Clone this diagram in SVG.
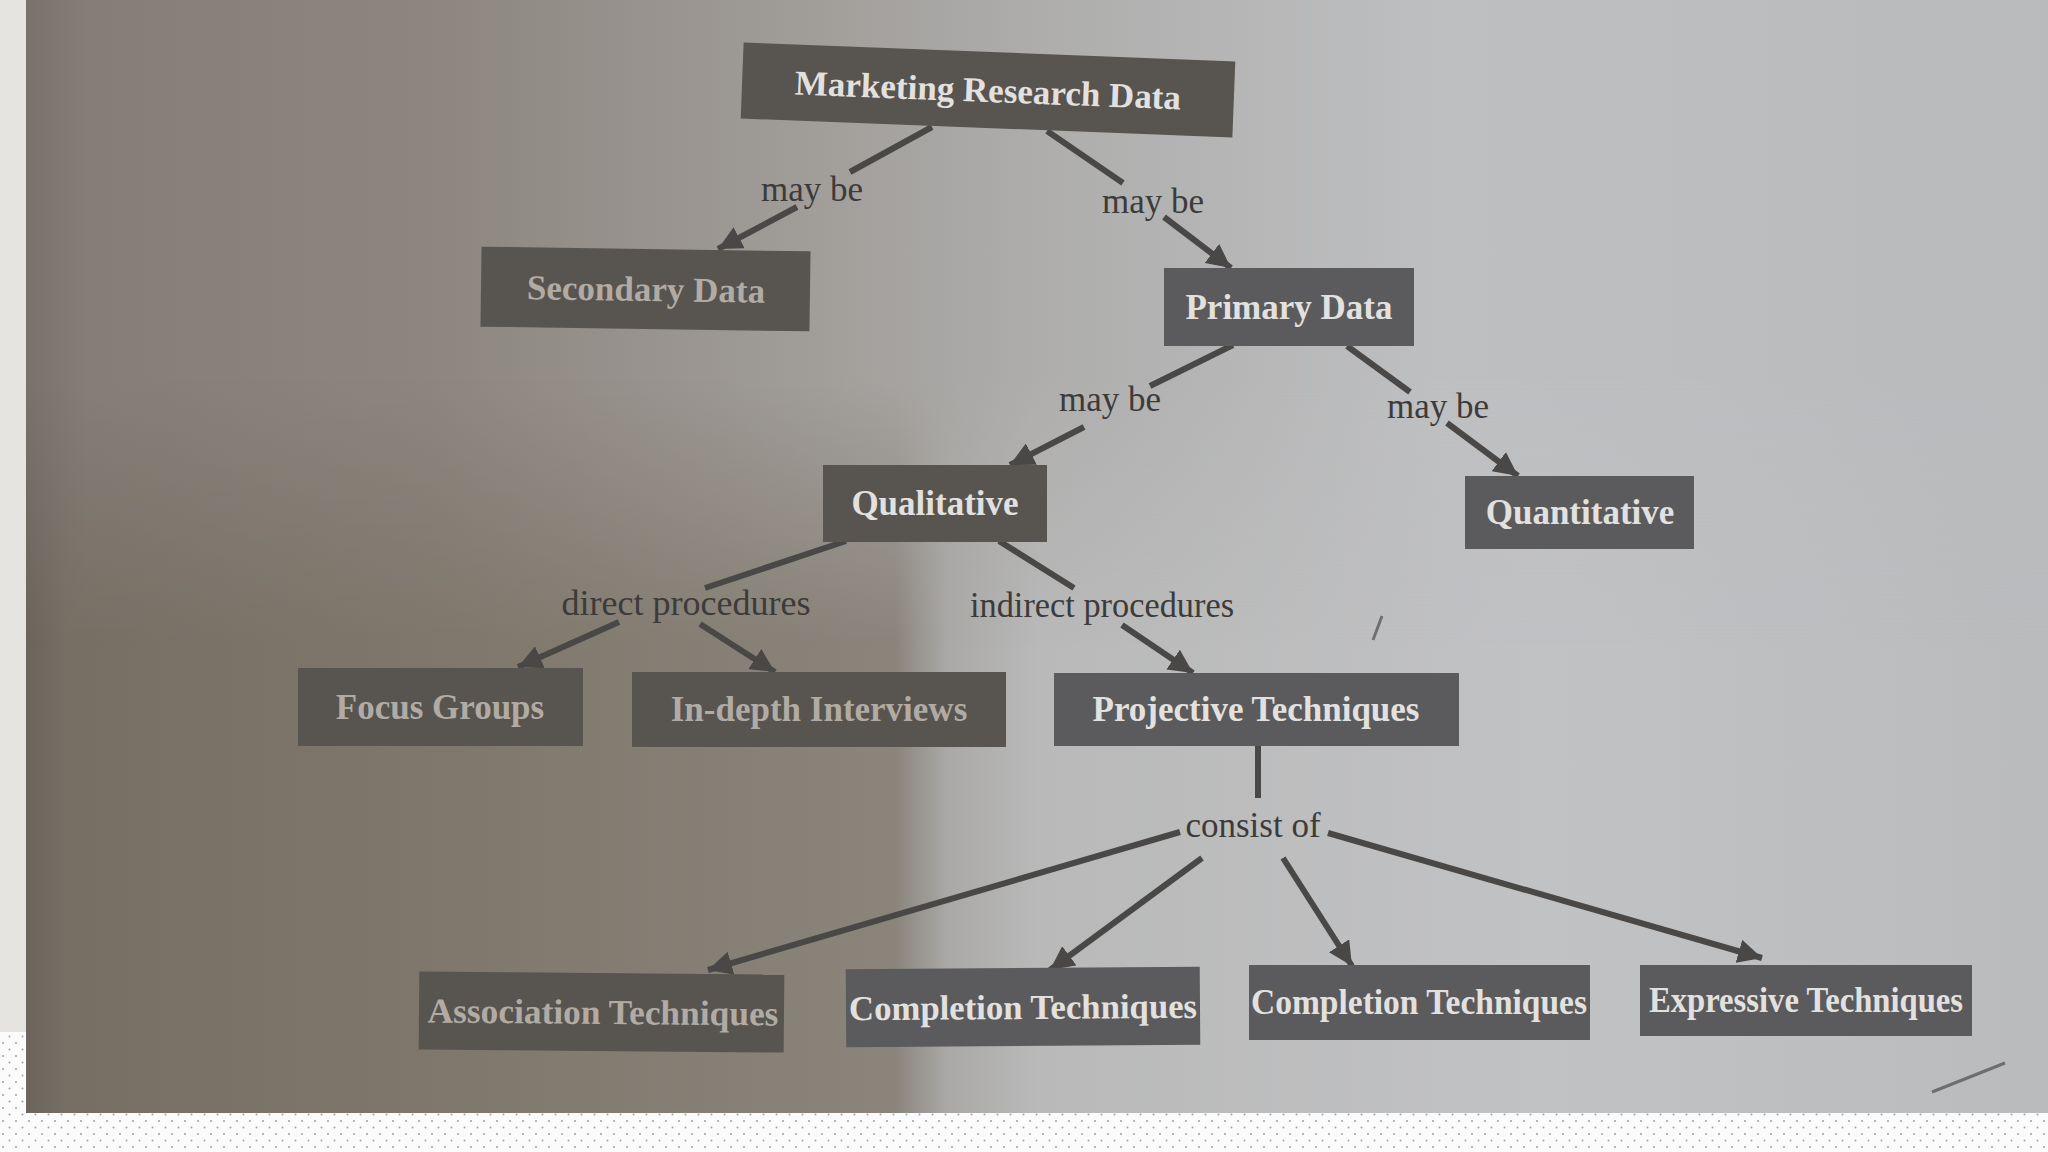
<svg xmlns="http://www.w3.org/2000/svg" width="2048" height="1152" viewBox="0 0 2048 1152">
  <style>
    .box { fill: #58544f; }
    .boxr { fill: #5b5b5d; }
    .t { font-family: "Liberation Serif", "Times New Roman", Tinos, "DejaVu Serif", serif; font-weight: bold; font-size: 35px; fill: #e2e1df; text-anchor: middle; }
    .dim { fill: #b1aba4; }
    .lbl { font-family: "Liberation Serif", "Times New Roman", Tinos, "DejaVu Serif", serif; font-size: 35px; fill: #3d3b3a; text-anchor: middle; }
    .edge { stroke: #4a4847; stroke-width: 6; fill: none; stroke-linecap: butt; }
  </style>
  <defs>
    <marker id="arr" markerUnits="userSpaceOnUse" markerWidth="26" markerHeight="24" refX="24" refY="12" orient="auto">
      <path d="M0,0 L24,12 L0,24 z" fill="#4a4847"/>
    </marker>
    <pattern id="dots" width="13" height="13" patternUnits="userSpaceOnUse">
      <rect width="13" height="13" fill="#fbfbfb"/>
      <circle cx="3" cy="3" r="1" fill="#9ea2ad"/>
      <circle cx="9.5" cy="9.5" r="1" fill="#9ea2ad"/>
    </pattern>
    <linearGradient id="lower" x1="26" y1="0" x2="2048" y2="0" gradientUnits="userSpaceOnUse">
      <stop offset="0" stop-color="#6b645b"/>
      <stop offset="0.02" stop-color="#776f64"/>
      <stop offset="0.2" stop-color="#7f776b"/>
      <stop offset="0.43" stop-color="#8a847b"/>
      <stop offset="0.455" stop-color="#a9a8a6"/>
      <stop offset="0.5" stop-color="#b9b9b9"/>
      <stop offset="0.75" stop-color="#c1c2c4"/>
      <stop offset="1" stop-color="#babbbd"/>
    </linearGradient>
    <linearGradient id="upper" x1="26" y1="0" x2="2048" y2="0" gradientUnits="userSpaceOnUse">
      <stop offset="0" stop-color="#78726b"/>
      <stop offset="0.03" stop-color="#847e77"/>
      <stop offset="0.2" stop-color="#8c867f"/>
      <stop offset="0.35" stop-color="#9c9893"/>
      <stop offset="0.5" stop-color="#aeadac"/>
      <stop offset="0.7" stop-color="#bebfc1"/>
      <stop offset="1" stop-color="#b9babc"/>
    </linearGradient>
    <linearGradient id="fade" x1="0" y1="0" x2="0" y2="1152" gradientUnits="userSpaceOnUse">
      <stop offset="0" stop-color="#fff"/>
      <stop offset="0.33" stop-color="#fff"/>
      <stop offset="0.56" stop-color="#000"/>
    </linearGradient>
    <mask id="upmask" maskUnits="userSpaceOnUse" x="0" y="0" width="2048" height="1152">
      <rect width="2048" height="1152" fill="url(#fade)"/>
    </mask>
  </defs>

  <!-- surroundings and photo -->
  <rect width="2048" height="1152" fill="#e5e4e0"/>
  <rect x="0" y="1032" width="26" height="120" fill="url(#dots)"/>
  <rect x="0" y="1113" width="2048" height="39" fill="url(#dots)"/>
  <rect x="26" y="0" width="2022" height="1113" fill="url(#lower)"/>
  <rect x="26" y="0" width="2022" height="1113" fill="url(#upper)" mask="url(#upmask)"/>
  <path d="M1932,1092 L2005,1063" stroke="#6d6e70" stroke-width="3" fill="none"/>
  <path d="M1373,640 L1382,616" stroke="#6f6f70" stroke-width="3" fill="none"/>

  <g id="connectors">
    <line class="edge" x1="932" y1="127" x2="850" y2="172"/>
    <line class="edge" x1="797" y1="207" x2="718" y2="249" marker-end="url(#arr)"/>
    <line class="edge" x1="1047" y1="131" x2="1123" y2="183"/>
    <line class="edge" x1="1164" y1="217" x2="1231" y2="268" marker-end="url(#arr)"/>
    <line class="edge" x1="1233" y1="345" x2="1150" y2="386"/>
    <line class="edge" x1="1084" y1="427" x2="1010" y2="465" marker-end="url(#arr)"/>
    <line class="edge" x1="1347" y1="346" x2="1410" y2="392"/>
    <line class="edge" x1="1447" y1="423" x2="1518" y2="476" marker-end="url(#arr)"/>
    <line class="edge" x1="846" y1="541" x2="705" y2="588"/>
    <line class="edge" x1="619" y1="622" x2="518" y2="667" marker-end="url(#arr)"/>
    <line class="edge" x1="700" y1="624" x2="775" y2="672" marker-end="url(#arr)"/>
    <line class="edge" x1="999" y1="541" x2="1074" y2="588"/>
    <line class="edge" x1="1122" y1="625" x2="1193" y2="673" marker-end="url(#arr)"/>
    <line class="edge" x1="1258" y1="746" x2="1258" y2="798"/>
    <line class="edge" x1="1180" y1="832" x2="708" y2="970" marker-end="url(#arr)"/>
    <line class="edge" x1="1202" y1="858" x2="1050" y2="970" marker-end="url(#arr)"/>
    <line class="edge" x1="1283" y1="858" x2="1352" y2="966" marker-end="url(#arr)"/>
    <line class="edge" x1="1328" y1="833" x2="1762" y2="958" marker-end="url(#arr)"/>
  </g>

  <g id="labels">
    <text class="lbl" x="812" y="201">may be</text>
    <text class="lbl" x="1153" y="213">may be</text>
    <text class="lbl" x="1110" y="411">may be</text>
    <text class="lbl" x="1438" y="418">may be</text>
    <text class="lbl" x="686" y="615" textLength="249" lengthAdjust="spacingAndGlyphs">direct procedures</text>
    <text class="lbl" x="1102" y="617" textLength="264" lengthAdjust="spacingAndGlyphs">indirect procedures</text>
    <text class="lbl" x="1253" y="837">consist of</text>
  </g>

  <g id="n-marketing" transform="rotate(2.2 988 90)">
    <rect class="box" x="742" y="52" width="492" height="76"/>
    <text class="t" x="988" y="102">Marketing Research Data</text>
  </g>
  <g id="n-secondary" transform="rotate(0.8 645 289)">
    <rect class="box" x="481" y="249" width="329" height="80"/>
    <text class="t dim" x="646" y="301">Secondary Data</text>
  </g>
  <g id="n-primary">
    <rect class="boxr" x="1164" y="268" width="250" height="78"/>
    <text class="t" x="1289" y="319">Primary Data</text>
  </g>
  <g id="n-qualitative">
    <rect class="box" x="823" y="465" width="224" height="77"/>
    <text class="t" x="935" y="515">Qualitative</text>
  </g>
  <g id="n-quantitative">
    <rect class="boxr" x="1465" y="476" width="229" height="73"/>
    <text class="t" x="1580" y="524">Quantitative</text>
  </g>
  <g id="n-focus">
    <rect class="box" x="298" y="668" width="285" height="78"/>
    <text class="t dim" x="440" y="719">Focus Groups</text>
  </g>
  <g id="n-indepth">
    <rect class="box" x="632" y="672" width="374" height="75"/>
    <text class="t dim" x="819" y="721">In-depth Interviews</text>
  </g>
  <g id="n-projective">
    <rect class="boxr" x="1054" y="673" width="405" height="73"/>
    <text class="t" x="1256" y="721">Projective Techniques</text>
  </g>
  <g id="n-association" transform="rotate(0.5 601 1012)">
    <rect class="box" x="419" y="973" width="365" height="78"/>
    <text class="t dim" x="603" y="1024" textLength="351" lengthAdjust="spacingAndGlyphs">Association Techniques</text>
  </g>
  <g id="n-completion1" transform="rotate(-0.4 1023 1007)">
    <rect class="boxr" x="846" y="968" width="354" height="78"/>
    <text class="t" x="1023" y="1019" textLength="348" lengthAdjust="spacingAndGlyphs">Completion Techniques</text>
  </g>
  <g id="n-completion2">
    <rect class="boxr" x="1249" y="965" width="341" height="75"/>
    <text class="t" x="1419" y="1014" textLength="336" lengthAdjust="spacingAndGlyphs">Completion Techniques</text>
  </g>
  <g id="n-expressive">
    <rect class="boxr" x="1640" y="965" width="332" height="71"/>
    <text class="t" x="1806" y="1012" textLength="314" lengthAdjust="spacingAndGlyphs">Expressive Techniques</text>
  </g>
</svg>
